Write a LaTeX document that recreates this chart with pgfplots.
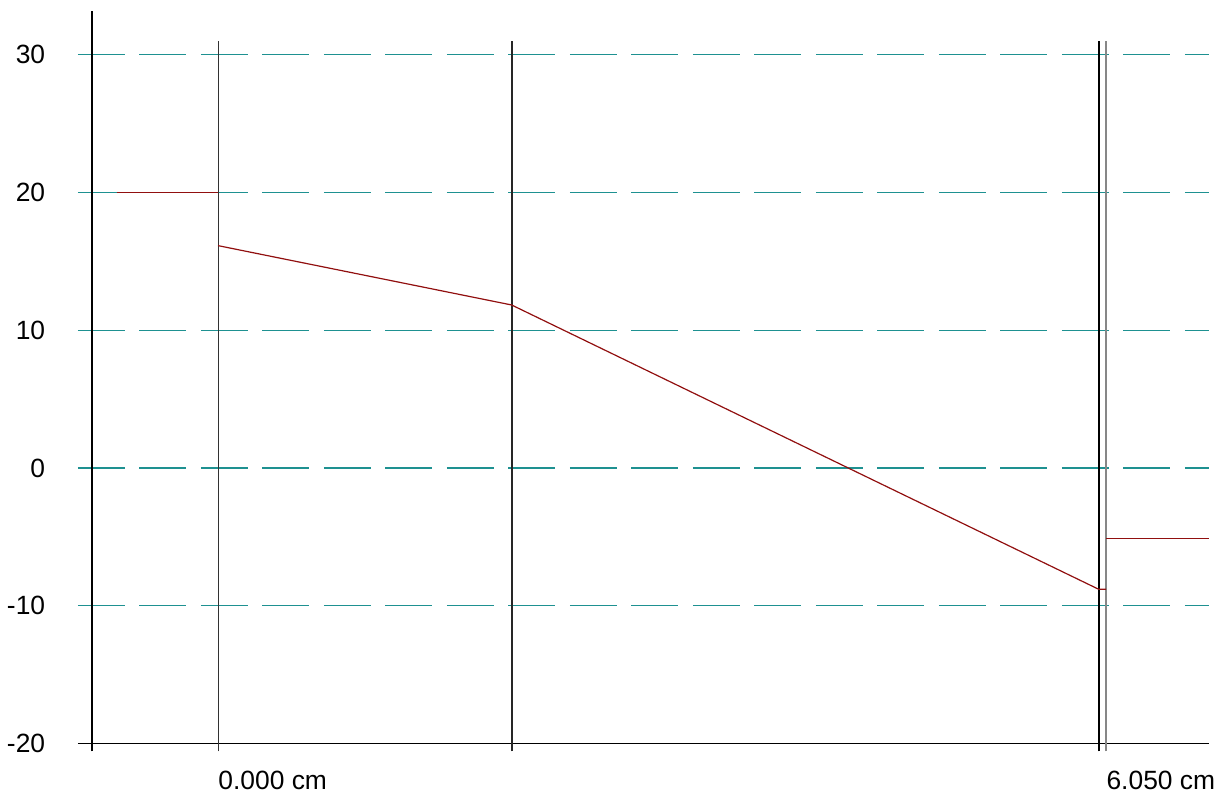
\documentclass[border=0pt]{standalone}
\usepackage{fontspec}
\setmainfont{Liberation Sans}
\usepackage{pgfplots}
\pgfplotsset{compat=1.18}
\definecolor{gridteal}{RGB}{30,145,145}
\definecolor{curve}{RGB}{145,15,15}
\definecolor{secgray}{RGB}{135,135,135}
\definecolor{secdark}{RGB}{50,50,50}
\begin{document}
\begin{tikzpicture}
\begin{axis}[
  x=73.4pt, y=6.885pt,
  xmin=-0.954, xmax=6.75, ymin=-20.58, ymax=33.2,
  clip=false,
  axis line style={draw=none},
  tick style={draw=none},
  ytick={-20,-10,0,10,20,30},
  yticklabels={-20,-10,0,10,20,30},
  xtick={0,6.05},
  xticklabels={0.000 cm,6.050 cm},
  ticklabel style={font=\fontsize{13.2}{15}\selectfont, inner sep=0pt},
  yticklabel style={anchor=east, xshift=-16.2pt},
  xticklabel style={anchor=base west, yshift=-19pt},
]
% dashed reference levels
\pgfplotsinvokeforeach{-10,0,10,20,30}{
  \addplot[gridteal, line width=0.6pt, dash pattern=on 23.5pt off 7.25pt]
    coordinates {(-0.954,#1) (6.75,#1)};
}
% axes
\addplot[black, line width=0.7pt] coordinates {(-0.954,-20) (6.75,-20)};
\addplot[black, line width=0.8pt] coordinates {(-0.858,-20.58) (-0.858,33.2)};
% section boundaries
\addplot[secdark, line width=0.5pt] coordinates {(0,-20.58) (0,31)};
\addplot[black!85, line width=0.9pt] coordinates {(2,-20.58) (2,31)};
\addplot[black, line width=0.7pt] coordinates {(6.0,-20.58) (6.0,31)};
\addplot[secgray, line width=0.8pt] coordinates {(6.05,-20.58) (6.05,31)};
% profile
\addplot[curve, line width=0.6pt] coordinates {(-0.69,20) (0,20)};
\addplot[curve, line width=0.6pt] coordinates {(0,16.15) (2,11.84) (6.0,-8.81) (6.05,-8.81)};
\addplot[curve, line width=0.6pt] coordinates {(6.05,-5.13) (6.75,-5.13)};
\coordinate (bbl) at (axis cs:-1.485,-23.82);
\coordinate (btr) at (axis cs:6.9005,33.987);
\end{axis}
\pgfresetboundingbox
\path[use as bounding box] (bbl) rectangle (btr);
\end{tikzpicture}
\end{document}
